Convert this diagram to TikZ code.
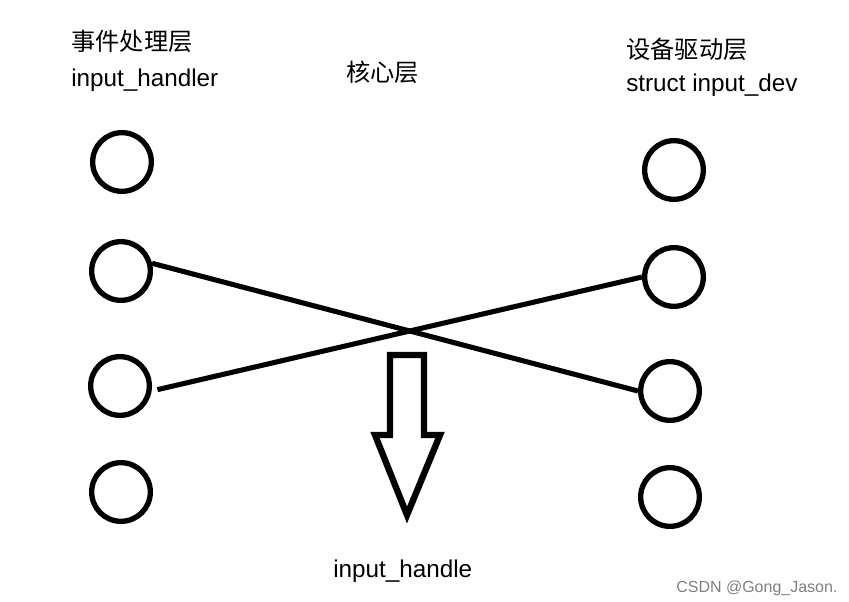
\documentclass[tikz,border=0pt]{standalone}
\usepackage{fontspec}
\setmainfont{Liberation Sans}
\newfontfamily\cjk{Noto Sans CJK SC}
\begin{document}
\begin{tikzpicture}[x=0.75pt,y=-0.75pt,
  ring/.style={circle,draw=black,line width=4pt,minimum size=44pt,inner sep=0pt},
  link/.style={line width=3.8pt,draw=black},
  lbl/.style={anchor=base west,inner sep=0pt,font=\fontsize{18.2}{20}\selectfont},
  mark2/.style={anchor=base west,inner sep=0pt,text=black!50,font=\fontsize{12}{13}\selectfont}]
\useasboundingbox (0,0) rectangle (849,602);
% left circles
\node[ring] (L1) at (122,162) {};
\node[ring] (L2) at (121,271) {};
\node[ring] (L3) at (120,386) {};
\node[ring] (L4) at (121,492) {};
% right circles
\node[ring] (R1) at (674,170) {};
\node[ring] (R2) at (674,277) {};
\node[ring] (R3) at (670,391) {};
\node[ring] (R4) at (670,497) {};
% connectors
\draw[link] (L2.14) -- (R3.west);
\draw[link,shorten <=4.5pt] (L3.-9) -- (R2.west);
% hollow arrow
\draw[line width=4.8pt,line join=miter,miter limit=10]
  (390,355) -- (424,355) -- (424,435) -- (440,435) -- (407,515)
  -- (375,435) -- (390,435) -- cycle;
% labels
\node[lbl] (t1) at (71,51) {\cjk 事件处理层};
\node[lbl] (t2) at (71,87) {input\_handler};
\node[lbl] (t3) at (346,82) {\cjk 核心层};
\node[lbl] (t4) at (626,59) {\cjk 设备驱动层};
\node[lbl] (t5) at (626,92) {struct input\_dev};
\node[lbl] (t6) at (333,577) {input\_handle};
\node[mark2] (wm) at (676,592) {CSDN @Gong\_Jason.};
\end{tikzpicture}
\end{document}
